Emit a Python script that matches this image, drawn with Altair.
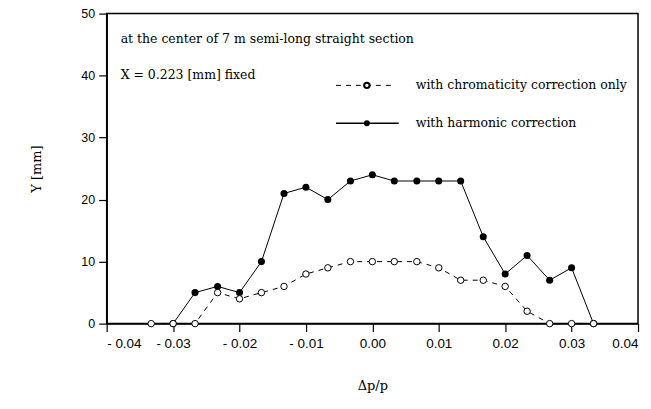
import altair as alt
import pandas as pd

dp = [-0.0333, -0.03, -0.0267, -0.0233, -0.02, -0.0167, -0.0133, -0.01, -0.0067, -0.0033,
      0.0, 0.0033, 0.0067, 0.01, 0.0133, 0.0167, 0.02, 0.0233, 0.0267, 0.03, 0.0333]
y_chrom = [0, 0, 0, 5, 4, 5, 6, 8, 9, 10, 10, 10, 10, 9, 7, 7, 6, 2, 0, 0, 0]
dp_harm = dp[1:]
y_harm = [0, 5, 6, 5, 10, 21, 22, 20, 23, 24, 23, 23, 23, 23, 14, 8, 11, 7, 9, 0]

labels = ["with chromaticity correction only", "with harmonic correction"]
notes = ["at the center of 7 m semi-long straight section", "X = 0.223 [mm] fixed"]

chrom = pd.DataFrame({"dp": dp, "y": y_chrom})
harm = pd.DataFrame({"dp": dp_harm, "y": y_harm})

serif = "DejaVu Serif"
sans = "Liberation Sans"

x = alt.X("dp:Q", scale=alt.Scale(domain=[-0.04, 0.04], nice=False),
          axis=alt.Axis(values=[-0.04, -0.03, -0.02, -0.01, 0, 0.01, 0.02, 0.03, 0.04],
                        labelExpr="datum.value < 0 ? '- ' + format(abs(datum.value), '.2f') : format(datum.value, '.2f')",
                        title="Δp/p", titlePadding=30, grid=False, labelPadding=5, labelFontSize=13.5))
y = alt.Y("y:Q", scale=alt.Scale(domain=[0, 50], nice=False),
          axis=alt.Axis(values=[0, 10, 20, 30, 40, 50], title="Y [mm]", titlePadding=37, grid=False,
                        labelPadding=4, labelFontSize=12.5))

harm_line = alt.Chart(harm).mark_line(color="black", strokeWidth=1).encode(x=x, y=y)
harm_pts = alt.Chart(harm).mark_point(shape="circle", filled=True, color="black", size=50, opacity=1).encode(x=x, y=y)
chrom_line = alt.Chart(chrom).mark_line(color="black", strokeWidth=1, strokeDash=[5, 5]).encode(x=x, y=y)
chrom_pts = alt.Chart(chrom).mark_point(shape="circle", filled=True, fill="white", stroke="black",
                                        strokeWidth=1, size=42, opacity=1).encode(x=x, y=y)

# legend
one = pd.DataFrame({"a": [0]})
leg1_line = alt.Chart(one).mark_rule(color="black", strokeWidth=1, strokeDash=[5, 5]).encode(
    x=alt.value(230), x2=alt.value(286), y=alt.value(72))
leg1_pt = alt.Chart(one).mark_point(shape="circle", filled=True, fill="white", stroke="black",
                                    size=30, opacity=1).encode(x=alt.value(261), y=alt.value(72))
leg2_line = alt.Chart(one).mark_rule(color="black", strokeWidth=1.3).encode(
    x=alt.value(230), x2=alt.value(293), y=alt.value(110))
leg2_pt = alt.Chart(one).mark_point(shape="circle", filled=True, color="black",
                                    size=35, opacity=1).encode(x=alt.value(261), y=alt.value(110))
leg_txt = alt.Chart(pd.DataFrame({"t": labels, "py": [72, 110]})).mark_text(
    align="left", baseline="middle", font=serif, fontSize=12.5, color="black").encode(
    x=alt.value(310), y=alt.Y("py:Q", scale=None), text="t:N")
note_txt = alt.Chart(pd.DataFrame({"t": notes, "py": [25, 62]})).mark_text(
    align="left", baseline="middle", font=serif, fontSize=12.5, color="black").encode(
    x=alt.value(14), y=alt.Y("py:Q", scale=None), text="t:N")

chart = alt.layer(harm_line, harm_pts, chrom_line, chrom_pts,
                  leg1_line, leg1_pt, leg2_line, leg2_pt, leg_txt, note_txt).properties(
    width=533, height=311,
    autosize=alt.AutoSizeParams(type="none"),
    padding={"left": 99, "top": 5, "right": 5, "bottom": 75},
    background="white",
).configure_view(stroke="black", strokeWidth=1.5).configure_axis(
    domainColor="black", domainWidth=1.5, tickColor="black", tickWidth=1.2, tickSize=8,
    labelFont=sans, labelColor="black",
    titleFont=serif, titleFontSize=13, titleFontWeight="normal", titleColor="black",
).configure_axisY(titleAngle=270)

chart.save("out.html", embed_options={"renderer": "svg", "actions": False})
